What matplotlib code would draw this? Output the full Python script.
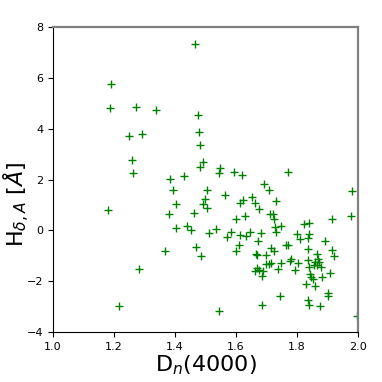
import matplotlib
matplotlib.use("Agg")
import matplotlib.pyplot as plt

dn4000 = [1.466, 1.190, 1.188, 1.273, 1.338, 1.476, 1.478, 1.249, 1.290, 1.481,
          1.258, 1.492, 1.483, 1.261, 1.384, 1.430, 1.392, 1.504, 1.499, 1.492,
          1.506, 1.404, 1.180, 1.381, 1.463, 1.404, 1.438, 1.451, 1.513, 1.366,
          1.468, 1.485, 1.283, 1.217, 1.549, 1.543, 1.593, 1.621, 1.771, 1.691,
          1.708, 1.565, 1.651, 1.624, 1.614, 1.663, 1.732, 1.676, 1.712, 1.722,
          1.725, 1.599, 1.630, 1.533, 1.584, 1.570, 1.612, 1.634, 1.646, 1.681,
          1.673, 1.731, 1.746, 1.727, 1.799, 1.810, 1.824, 1.841, 1.835, 1.841,
          1.891, 1.916, 1.976, 1.982, 1.609, 1.599, 1.666, 1.670, 1.700, 1.716,
          1.724, 1.763, 1.769, 1.781, 1.778, 1.748, 1.802, 1.795, 1.700, 1.708,
          1.716, 1.737, 1.670, 1.662, 1.674, 1.685, 1.690, 1.835, 1.867, 1.914,
          1.920, 1.835, 1.868, 1.873, 1.839, 1.856, 1.866, 1.880, 1.859, 1.843,
          1.847, 1.853, 1.882, 1.907, 1.830, 1.860, 1.901, 1.902, 1.744, 1.685,
          1.835, 1.841, 1.875, 1.543, 1.998]
hdelta = [7.33, 5.78, 4.80, 4.85, 4.72, 4.56, 3.89, 3.71, 3.80, 3.35,
          2.76, 2.70, 2.50, 2.25, 2.02, 2.14, 1.60, 1.60, 1.23, 1.02,
          0.86, 1.02, 0.80, 0.63, 0.67, 0.10, 0.18, 0.01, -0.10, -0.82,
          -0.67, -1.02, -1.53, -2.98, 2.44, 2.24, 2.28, 2.16, 2.29, 1.82,
          1.58, 1.39, 1.30, 1.18, 1.06, 1.07, 1.15, 0.85, 0.64, 0.63,
          0.43, 0.45, 0.55, 0.06, -0.08, -0.25, -0.20, -0.23, -0.08, -0.11,
          -0.41, -0.08, 0.17, 0.12, -0.15, -0.33, 0.24, 0.30, -0.29, -0.15,
          -0.40, 0.45, 0.55, 1.54, -0.59, -0.82, -0.92, -0.97, -0.97, -0.68,
          -0.80, -0.59, -0.59, -1.12, -1.21, -1.30, -1.30, -1.58, -1.32, -1.34,
          -1.30, -1.54, -1.47, -1.62, -1.57, -1.78, -1.62, -0.75, -0.92, -0.77,
          -1.00, -1.16, -1.14, -1.25, -1.43, -1.38, -1.38, -1.43, -1.26, -1.72,
          -1.85, -1.91, -1.85, -1.69, -2.12, -2.18, -2.48, -2.59, -2.59, -2.92,
          -2.75, -2.92, -2.97, -3.18, -3.39]

xticks = [1.0, 1.2, 1.4, 1.6, 1.8, 2.0]
yticks = [-4, -2, 0, 2, 4, 6, 8]

fig = plt.figure(figsize=(3.82, 3.82), dpi=100)
ax = fig.add_axes([0.139, 0.131, 0.798, 0.798])
ax.plot(dn4000, hdelta, linestyle='none', marker='+', color='g',
        markersize=6, markeredgewidth=1.0)
ax.set_xlim(1.0, 2.0)
ax.set_ylim(-4, 8)
ax.set_xticks(xticks)
ax.set_yticks(yticks)
ax.tick_params(labelsize=8, length=3.5)
ax.set_xlabel(r'D$_n$(4000)', fontsize=16, labelpad=1)
ax.set_ylabel(r'H$_{\delta,A}$ [$\AA$]', fontsize=16)
ax.yaxis.set_label_coords(-0.068, 0.42)
for s in ['top', 'right']:
    ax.spines[s].set_color('#808080')
    ax.spines[s].set_linewidth(1.6)
fig.savefig('out.png', dpi=100)
